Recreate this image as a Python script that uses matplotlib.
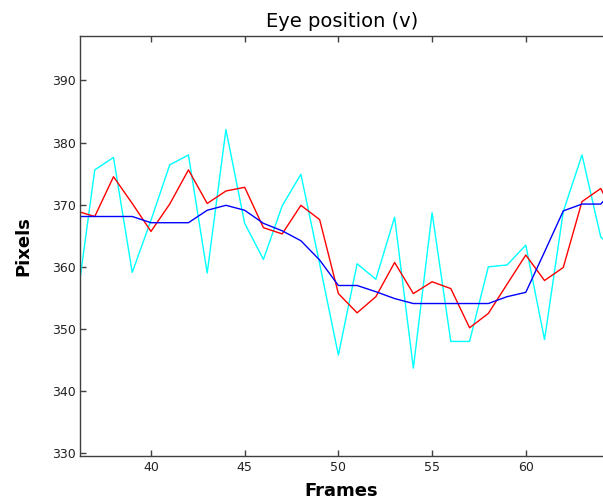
import matplotlib
matplotlib.use('Agg')
import matplotlib.pyplot as plt

# frame numbers (the last one is partly outside the visible range)
frames = list(range(36, 66))

# raw eye position (cyan)
raw_v = [353.3, 375.6, 377.6, 359.1, 367.5, 376.4, 378.0, 359.0, 382.1, 367.0,
         361.2, 369.8, 374.9, 360.5, 345.8, 360.5, 358.0, 368.0, 343.7, 368.7,
         348.0, 348.0, 360.0, 360.3, 363.5, 348.3, 368.9, 378.0, 364.8, 362.0]

# smoothed (red)
smooth_v = [369.0, 368.1, 374.5, 370.2, 365.7, 370.1, 375.6, 370.2, 372.2, 372.8,
            366.3, 365.3, 369.9, 367.6, 355.7, 352.6, 355.2, 360.7, 355.7, 357.6,
            356.5, 350.2, 352.5, 357.2, 361.9, 357.8, 359.9, 370.5, 372.6, 366.8]

# fixation estimate (blue)
fix_v = [368.1, 368.1, 368.1, 368.1, 367.1, 367.1, 367.1, 369.1, 369.9, 369.1,
         367.0, 365.8, 364.2, 361.1, 357.0, 357.0, 356.0, 354.9, 354.1, 354.1,
         354.1, 354.1, 354.1, 355.2, 355.9, 362.4, 369.0, 370.1, 370.1, 373.4]

x_ticks = [40, 45, 50, 55, 60]
y_ticks = [330, 340, 350, 360, 370, 380, 390]

fig = plt.figure(figsize=(6.03, 5.04), dpi=100)
ax = fig.add_axes([0.1332, 0.0952, 0.8668, 0.8327])

ax.plot(frames, raw_v, color='#00ffff', linewidth=1.0)
ax.plot(frames, smooth_v, color='#ff0000', linewidth=1.0)
ax.plot(frames, fix_v, color='#0000ff', linewidth=1.0)

ax.set_xlim(36.23, 64.12)
ax.set_ylim(329.57, 397.08)
ax.set_xticks(x_ticks)
ax.set_yticks(y_ticks)

ax.tick_params(direction='in', length=4, width=1, colors='#404040',
               labelcolor='#222222', labelsize=9, top=True, right=False)
for side in ['left', 'top', 'bottom']:
    ax.spines[side].set_color('#404040')
    ax.spines[side].set_linewidth(1.0)
ax.spines['right'].set_visible(False)

ax.set_title('Eye position (v)', fontsize=14, pad=7)
ax.set_xlabel('Frames', fontsize=13, fontweight='bold', labelpad=6)
ax.set_ylabel('Pixels', fontsize=13, fontweight='bold', labelpad=14)

fig.savefig('out.png', dpi=100)
